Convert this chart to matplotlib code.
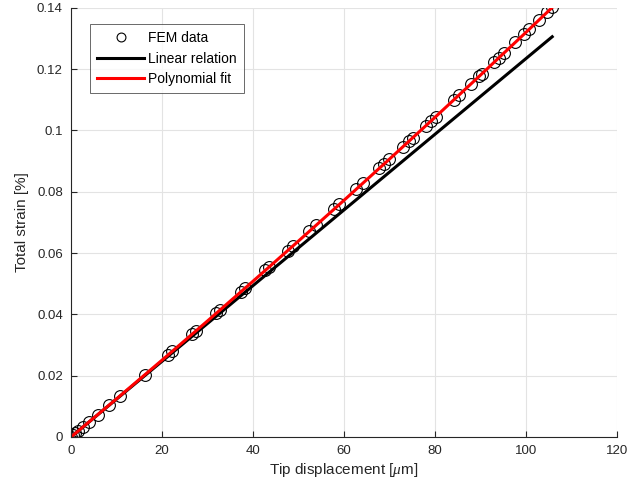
import numpy as np
import matplotlib
matplotlib.use("Agg")
import matplotlib.pyplot as plt
from matplotlib.ticker import FuncFormatter

plt.rcParams['font.family'] = ['Liberation Sans', 'DejaVu Sans']
plt.rcParams['mathtext.fontset'] = 'custom'
plt.rcParams['mathtext.it'] = 'Liberation Serif:italic'

# FEM data (tip displacement in um, total strain in %)
fem_x = [0, 0.4, 0.9, 1.6, 2.6, 4.0, 5.8, 8.3, 10.8, 16.2, 21.4, 22.2, 26.6, 27.4,
         31.9, 32.7, 37.3, 38.2, 42.7, 43.6, 47.6, 48.8, 52.4, 53.9, 57.9, 59.0,
         62.7, 64.1, 67.8, 68.9, 70.0, 72.9, 74.3, 75.1, 78.0, 79.1, 80.2, 84.2,
         85.3, 87.9, 89.7, 90.4, 93.0, 94.1, 95.2, 97.7, 99.6, 100.7, 102.9,
         104.7, 105.8]
fem_y = [0, 0.0005, 0.00111, 0.00198, 0.00322, 0.00496, 0.0072, 0.01032, 0.01346,
         0.02026, 0.02685, 0.02787, 0.03349, 0.03451, 0.0403, 0.04134, 0.04729,
         0.04846, 0.05433, 0.05551, 0.06076, 0.06235, 0.0671, 0.06908, 0.0744,
         0.07587, 0.08082, 0.0827, 0.08769, 0.08917, 0.09066, 0.09459, 0.09649,
         0.09758, 0.10154, 0.10304, 0.10455, 0.11004, 0.11156, 0.11514, 0.11764,
         0.1186, 0.12222, 0.12375, 0.12528, 0.12877, 0.13144, 0.13299, 0.13608,
         0.13861, 0.14016]

# linear relation
lin_x = [0, 105.8]
lin_y = [0, 0.1306]

# polynomial fit
fit_x = [0, 10, 20, 30, 40, 50, 60, 70, 80, 90, 100, 105.8]
fit_y = [0, 0.01245, 0.02507, 0.03786, 0.05081, 0.06393, 0.07721, 0.09066,
         0.10427, 0.11805, 0.1320, 0.14016]

fig = plt.figure(figsize=(6.3, 4.97), dpi=100)
ax = fig.add_axes([0.113, 0.121, 0.866, 0.863])

ax.plot(fem_x, fem_y, 'o', mfc='none', mec='k', ms=8.5, mew=0.8, label='FEM data')
ax.plot(lin_x, lin_y, 'k-', lw=2.2, label='Linear relation')
ax.plot(fit_x, fit_y, 'r-', lw=2.2, label='Polynomial fit')

ax.set_xlim(0, 120)
ax.set_ylim(0, 0.14)
ax.set_xticks(np.arange(0, 121, 20))
ax.set_yticks(np.arange(0, 0.141, 0.02))
ax.yaxis.set_major_formatter(FuncFormatter(lambda v, p: '%g' % round(v, 3)))

ax.grid(True, color='#e3e3e3', lw=0.8)
ax.set_axisbelow(True)
for s in ['top', 'right']:
    ax.spines[s].set_visible(False)
for s in ['left', 'bottom']:
    ax.spines[s].set_color('#262626')
    ax.spines[s].set_linewidth(0.8)
ax.tick_params(direction='in', length=4, width=0.8, colors='#262626', labelsize=9.5, pad=6)

ax.set_xlabel(r'Tip displacement [$\mu$m]', fontsize=11, color='#262626', labelpad=3)
ax.set_ylabel('Total strain [%]', fontsize=11, color='#262626', labelpad=6)

leg = ax.legend(loc='upper left', bbox_to_anchor=(0.022, 0.978), fontsize=10,
                frameon=True, fancybox=False, edgecolor='#262626',
                handlelength=3.4, borderpad=0.5, labelspacing=0.45, handletextpad=0.3,
                markerscale=0.75)
leg.get_frame().set_linewidth(0.6)

fig.savefig('out.png', dpi=100)
